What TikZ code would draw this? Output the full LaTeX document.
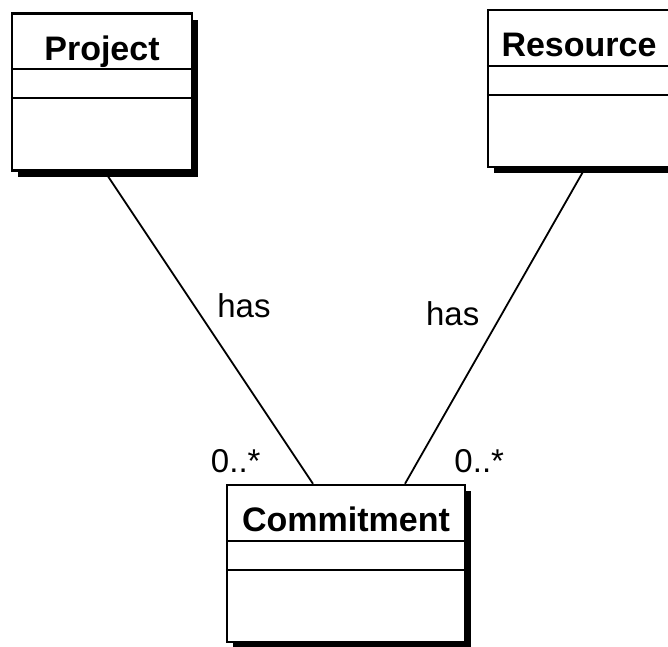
\documentclass[tikz,border=0pt]{standalone}
\usepackage{fontspec}
\setmainfont{Liberation Sans}
\usetikzlibrary{positioning, shadows}
\tikzset{
  classbox/.style={rectangle,draw,line width=2.5pt,fill=white,minimum width=#1,minimum height=157pt,
    drop shadow={shadow xshift=6pt,shadow yshift=-6pt,fill=black,opacity=1}},
  classname/.style={font=\fontsize{34}{40}\selectfont\bfseries,inner sep=0pt,anchor=base},
  divider/.style={line width=2pt},
  assoc/.style={line width=1.8pt},
  lbl/.style={font=\fontsize{33}{40}\selectfont,inner sep=2pt}
}

\begin{document}
\begin{tikzpicture}[x=1pt,y=-1pt]
\useasboundingbox (0,0) rectangle (668,646);
\clip (0,0) rectangle (668,646);
\fill[white] (0,0) rectangle (668,646);
\node[classbox=180pt] (proj) at (102,92) {};
\node[classbox=182pt] (res) at (579,88.5) {};
\node[classbox=238pt] (com) at (346,563.5) {};
% name and two empty compartments
\foreach \c/\t in {proj/Project, res/Resource, com/Commitment}{
  \node[classname] (\c-name) at ([yshift=-48pt]\c.north) {\t};
  \draw[divider] ([yshift=-57pt]\c.north west) -- ([yshift=-57pt]\c.north east);
  \draw[divider] ([yshift=-86pt]\c.north west) -- ([yshift=-86pt]\c.north east);
}
\draw[assoc] ([xshift=3pt]proj.south) -- node[lbl, pos=0.43, right=20pt] (has1) {has} ([xshift=-33pt]com.north);
\draw[assoc] ([xshift=6pt]res.south) -- node[lbl, pos=0.46, left=20pt] (has2) {has} ([xshift=59pt]com.north);
\node[lbl, above=9pt of com.north west, xshift=10pt] (mult1) {0..*};
\node[lbl, above=9pt of com.north east, xshift=13pt] (mult2) {0..*};
\end{tikzpicture}
\end{document}
